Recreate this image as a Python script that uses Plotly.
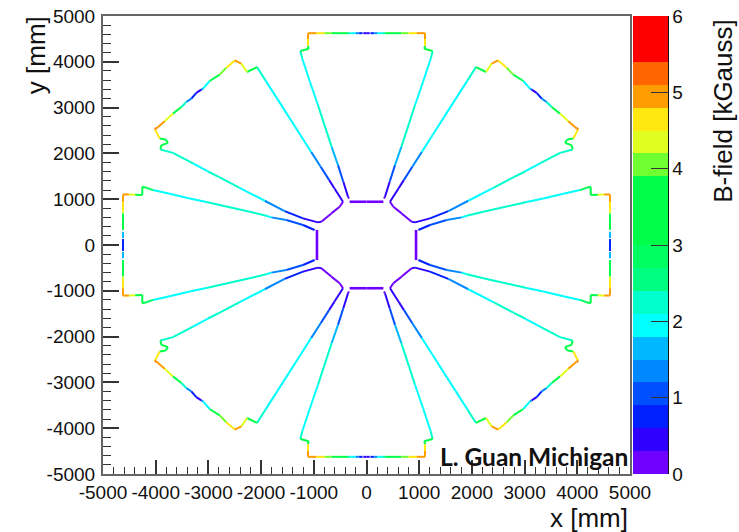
import plotly.graph_objects as go

# --- axis ticks ---
x_tick_vals = [-5000, -4000, -3000, -2000, -1000, 0, 1000, 2000, 3000, 4000, 5000]
x_tick_text = ["-5000", "-4000", "-3000", "-2000", "-1000", "0", "1000", "2000", "3000", "4000", "5000"]
y_tick_vals = x_tick_vals
y_tick_text = x_tick_text
cbar_tick_vals = [0, 1, 2, 3, 4, 5, 6]

# --- colour palette: one colour for each 0.3 kGauss contour ---
band_colors = ["#7000ff", "#3000ff", "#0020ff", "#0050ff", "#0088ff", "#00b8ff", "#00ffff",
               "#00ffcc", "#00ff80", "#00ff60", "#00ff48", "#00ff48", "#00ff48", "#70ff30",
               "#e0ff20", "#ffe810", "#ff9c00", "#ff6600", "#ff0000", "#ff0000"]

# --- one quadrant of the field map (mirrored into the other three)
# each path: node x [mm], node y [mm], field of the stretch after each node [kGauss]; None = gap
top_x = [0, 60, 75, 140, 145, 210, 290, 350, 660, 800, 950, 1110]
top_y = [4625, 4625, 4625, 4625, 4625, 4625, 4625, 4625, 4625, 4625, 4625, 4625]
top_b = [0.3, None, 0.8, None, 1.3, 1.9, 2.2, 3.3, 4.1, 4.6, 5.0]

north_x = [1110, 1110, 1110, 1097, 1255, 1218, 1072, 920, 806, 661, 541, 440, 351, 332]
north_y = [4625, 4500, 4350, 4285, 4235, 4068, 3559, 3051, 2651, 2143, 1743, 1380, 1054, 1017]
north_b = [5.0, 4.6, 3.5, 3.4, 2.2, 2.0, 1.95, 2.3, 2.1, 1.6, 0.9, 0.5, 0.2]

inner_top_x = [320, 0]
inner_top_y = [944, 944]
inner_top_b = [0.2]

diag_x = [446, 607, 708, 869, 1051, 1252, 1474, 1695, 1917, 2078, 2268, 2375, 2500, 2660, 2786,
          2976, 3102, 3134, 3229, 3324, 3419, 3513, 3672, 3830, 3988, 4020, 3925, 3811, 3766,
          3893, 3912, 3672, 3292, 3008, 2786, 2407, 1932, 1553, 1205, 920, 857, 667, 509, 446]
diag_y = [944, 1235, 1416, 1707, 2034, 2397, 2797, 3196, 3595, 3886, 3777, 3959, 4031, 3871, 3719,
          3581, 3414, 3392, 3320, 3196, 3123, 3014, 2869, 2702, 2542, 2542, 2324, 2303, 2230,
          2179, 2085, 2012, 1780, 1605, 1475, 1249, 966, 741, 581, 494, 509, 690, 835, 944]
diag_b = [0.3, 0.5, 0.9, 1.3, 1.8, 2.0, 2.0, 2.0, 2.3, 3.3, 4.2, 5.0, 4.6, 4.0, 3.1,
          1.9, 1.4, 0.3, 0.7, 1.2, 2.2, 3.2, 4.2, 4.9, 5.2, 4.6, 3.5, 3.4, 3.3,
          3.3, 2.3, 2.1, 1.9, 2.2, 2.2, 1.9, 1.4, 0.8, 0.4, 0.3, 0.2, 0.2, 0.2]

east_x = [984, 1205, 1521, 1806, 1901, 2217, 2533, 3039, 3355, 3735, 4051, 4178, 4254, 4254, 4390, 4510, 4620]
east_y = [327, 436, 545, 603, 639, 727, 806, 937, 1017, 1119, 1199, 1250, 1271, 1090, 1097, 1104, 1104]
east_b = [0.6, 0.9, 1.2, 1.8, 2.1, 2.2, 2.1, 2.0, 2.0, 1.95, 2.7, 3.3, 3.3, 3.5, 4.3, 5.0]

edge_x = [4620, 4620, 4620, 4620, 4620, 4620, 4620, 4620, 4620]
edge_y = [1104, 943, 763, 690, 327, 290, 153, 131, 0]
edge_b = [5.0, 4.6, 4.2, 3.4, None, 1.5, None, 0.8]

inner_side_x = [940, 940]
inner_side_y = [330, 0]
inner_side_b = [0.2]

thin_paths = [(top_x, top_y, top_b), (north_x, north_y, north_b), (diag_x, diag_y, diag_b),
              (east_x, east_y, east_b), (edge_x, edge_y, edge_b)]
thick_paths = [(inner_top_x, inner_top_y, inner_top_b), (inner_side_x, inner_side_y, inner_side_b)]

fig = go.Figure()


def add_paths(paths, width):
    xs = {i: [] for i in range(20)}
    ys = {i: [] for i in range(20)}
    for px, py, pb in paths:
        for sx, sy in [(1, 1), (-1, 1), (1, -1), (-1, -1)]:
            for k, b in enumerate(pb):
                if b is None:
                    continue
                band = min(int(b / 0.3), 19)
                xs[band] += [sx * px[k], sx * px[k + 1], None]
                ys[band] += [sy * py[k], sy * py[k + 1], None]
    for band in range(20):
        if xs[band]:
            fig.add_trace(go.Scatter(x=xs[band], y=ys[band], mode="lines", hoverinfo="skip",
                                     showlegend=False,
                                     line=dict(color=band_colors[band], width=width)))


add_paths(thin_paths, 2.0)
add_paths(thick_paths, 2.6)

colorscale = []
for i, c in enumerate(band_colors):
    colorscale += [[i / 20, c], [(i + 1) / 20, c]]

L, R, T, B = 103.3, 630.5, 15.5, 474.5
W, H = 739, 532
PW = R - L


def ax(px):
    return (px - L) / PW


def ay(py):
    return (B - py) / (B - T)


fig.add_trace(go.Scatter(
    x=[None], y=[None], mode="markers", showlegend=False, hoverinfo="skip",
    marker=dict(color=[0], cmin=0, cmax=6, colorscale=colorscale, showscale=True,
                colorbar=dict(x=ax(634), xanchor="left", xpad=0, ypad=0, y=0.5, yanchor="middle",
                              len=1, lenmode="fraction", thickness=35, thicknessmode="pixels",
                              outlinewidth=0, tickmode="array", tickvals=cbar_tick_vals,
                              ticks="inside", ticklen=17, tickwidth=1, tickcolor="#333",
                              tickfont=dict(family="Liberation Sans", size=19, color="#111")))))

axis_common = dict(range=[-5000, 5000], tickmode="array", ticks="inside", tickwidth=1.5, tickcolor="#333",
                   showgrid=False, zeroline=False, showline=True, linecolor="#666", linewidth=2, mirror=True,
                   tickfont=dict(family="Liberation Sans", size=19, color="#111"))

fig.update_xaxes(tickvals=x_tick_vals, ticktext=x_tick_text, ticklen=14, ticklabelstandoff=0,
                 minor=dict(dtick=200, tick0=-5000, ticks="inside", ticklen=7, tickcolor="#333", tickwidth=1),
                 **axis_common)
fig.update_yaxes(tickvals=y_tick_vals, ticktext=y_tick_text, ticklen=16, ticklabelstandoff=2,
                 minor=dict(dtick=200, tick0=-5000, ticks="inside", ticklen=8, tickcolor="#333", tickwidth=1),
                 **axis_common)

title_font = dict(family="Liberation Sans", size=26, color="#111")
notes = [
    dict(text="x [mm]", x=ax(631), y=ay(519), xanchor="right", yanchor="middle", font=title_font),
    dict(text="y [mm]", x=ax(37), y=ay(55), xanchor="center", yanchor="middle", textangle=-90, font=title_font),
    dict(text="B-field [kGauss]", x=ax(724), y=ay(110), xanchor="center", yanchor="middle", textangle=-90, font=title_font),
    dict(text="<b>L. Guan Michigan</b>", x=ax(631), y=ay(457), xanchor="right", yanchor="middle",
         font=dict(family="Lato", size=24.5, color="#111")),
]
for n in notes:
    fig.add_annotation(xref="paper", yref="paper", showarrow=False, **n)

fig.add_shape(type="line", xref="paper", yref="paper", x0=ax(669), x1=ax(669), y0=0, y1=1,
              line=dict(color="#111", width=1))

fig.update_layout(width=W, height=H, paper_bgcolor="white", plot_bgcolor="white",
                  margin=dict(l=L, r=W - R, t=T, b=H - B, autoexpand=False))
fig.write_html("out.html", config={"displayModeBar": False},
               post_script="document.body.style.margin='0';document.documentElement.style.overflow='hidden';")
